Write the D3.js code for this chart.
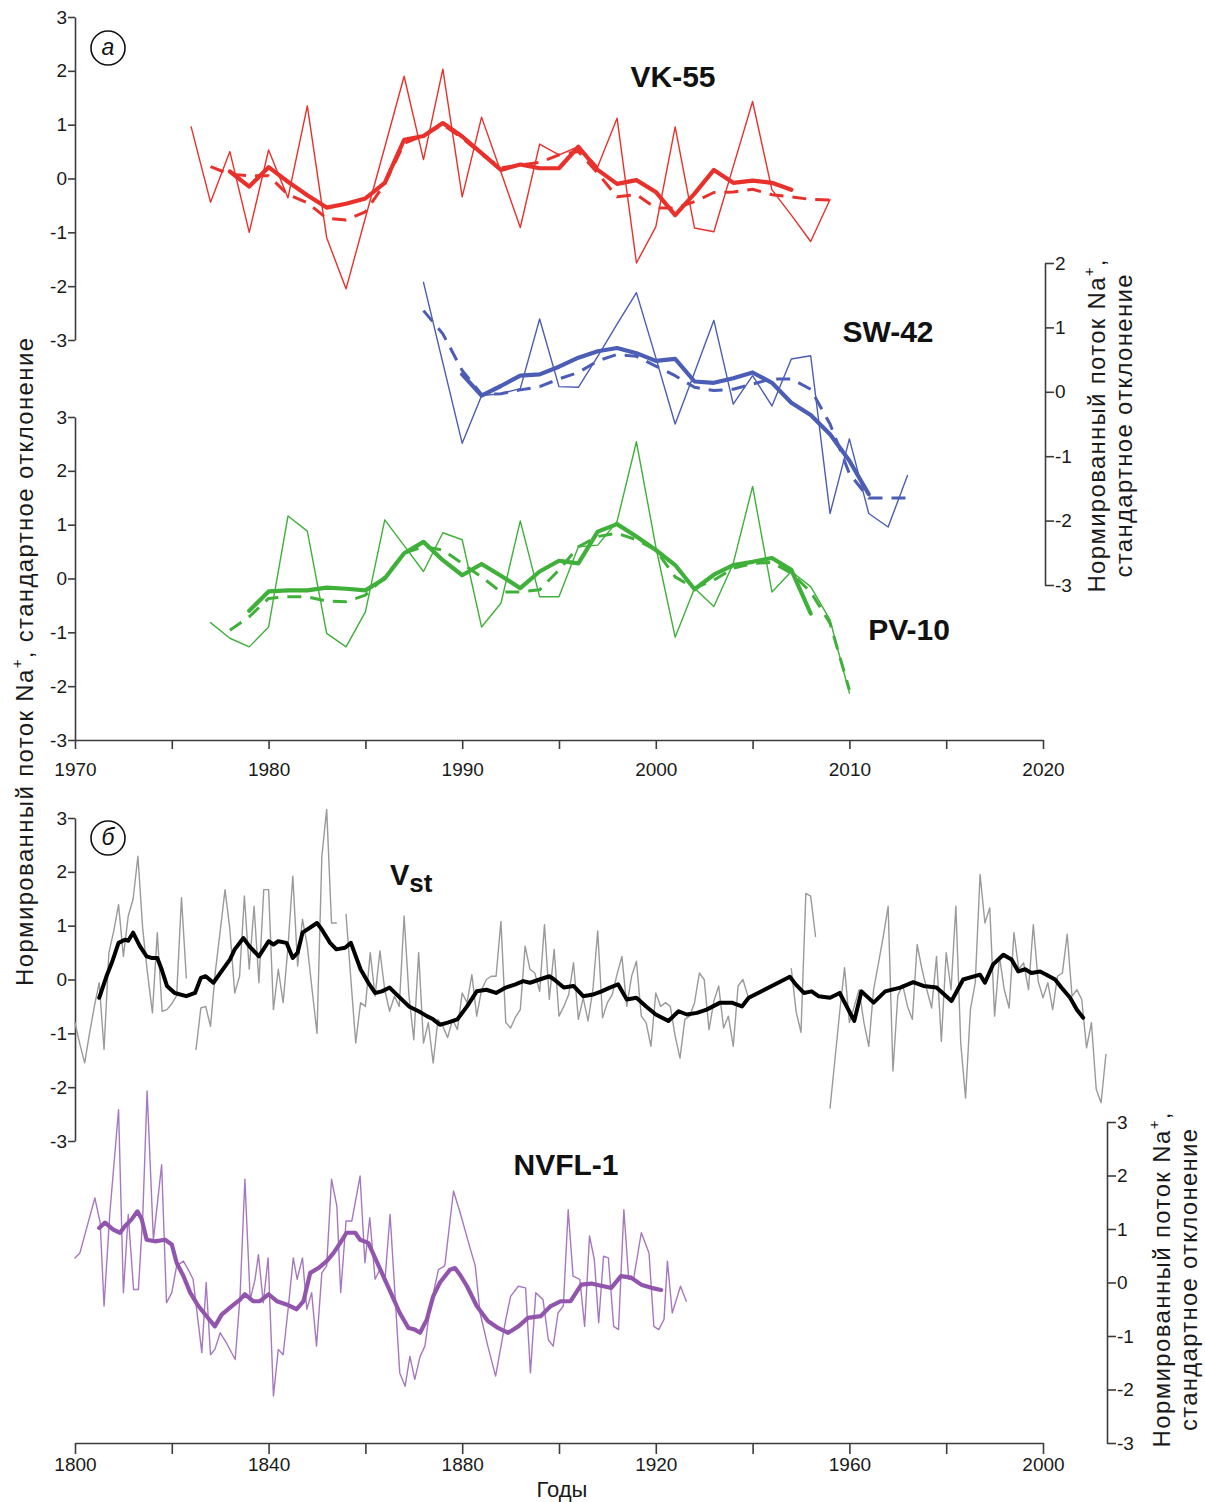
<!DOCTYPE html>
<html>
<head>
<meta charset="utf-8">
<script src="https://cdn.jsdelivr.net/npm/d3@7"></script>
<style>
body { margin: 0; background: #fff; }
text { font-family: "Liberation Sans", Arial, sans-serif; }
.axis path, .axis line { stroke: #3c3c3c; stroke-width: 1.6; }
.axis text { font-size: 19px; fill: #1a1a1a; }
</style>
</head>
<body>
<svg id="chart" width="1205" height="1502"></svg>
<script>
// ---------- panel a (annual, 1970-2020) ----------
var vkYears = d3.range(1976, 2010);
var vkAnnual = [0.96, -0.44, 0.5, -1.0, 0.53, -0.36, 1.35, -1.1, -2.05, -0.73, 0.58, 1.9, 0.35, 2.03, -0.34, 1.14, 0.12,
  -0.91, 0.64, 0.44, 0.59, 0.22, 1.12, -1.57, -0.9, 0.96, -0.92, -0.99, 0.22, 1.43, -0.21, -0.68, -1.17, -0.39];
var vkSmoothYears = d3.range(1978, 2008);
var vkSmooth = [0.13, -0.15, 0.21, -0.06, -0.31, -0.54, -0.47, -0.37, -0.08, 0.72, 0.79, 1.03, 0.78, 0.47, 0.16, 0.26,
  0.19, 0.19, 0.59, 0.16, -0.1, -0.03, -0.25, -0.68, -0.28, 0.16, -0.08, -0.04, -0.08, -0.21];
var vkDashYears = d3.range(1977, 2010);
var vkDash = [0.22, 0.08, 0.05, 0.05, -0.3, -0.45, -0.74, -0.77, -0.62, -0.1, 0.65, 0.8, 1.0, 0.75, 0.45, 0.2, 0.25, 0.3,
  0.44, 0.5, 0.1, -0.34, -0.3, -0.55, -0.55, -0.43, -0.26, -0.25, -0.2, -0.3, -0.34, -0.39, -0.4];

var swYears = d3.range(1988, 2014);
var swAnnual = [1.7, 0.45, -0.8, -0.06, -0.03, 0.05, 1.13, 0.08, 0.07, 0.55, 1.05, 1.54, 0.53, -0.5, 0.3, 1.11, -0.19,
  0.25, -0.22, 0.51, 0.56, -1.89, -0.73, -1.89, -2.1, -1.3];
var swSmoothYears = d3.range(1990, 2012);
var swSmooth = [0.27, -0.06, 0.09, 0.25, 0.27, 0.39, 0.53, 0.63, 0.68, 0.6, 0.48, 0.51, 0.16, 0.14, 0.21, 0.3, 0.14,
  -0.17, -0.36, -0.66, -1.07, -1.59];
var swDashYears = d3.range(1988, 2014);
var swDash = [1.26, 0.9, 0.33, -0.04, -0.03, 0.03, 0.08, 0.2, 0.3, 0.48, 0.58, 0.55, 0.4, 0.25, 0.07, 0.02, 0.04, 0.12,
  0.2, 0.2, 0.04, -0.5, -1.27, -1.65, -1.65, -1.65];

var pvYears = d3.range(1977, 2011);
var pvAnnual = [-0.82, -1.11, -1.27, -0.9, 1.16, 0.88, -1.02, -1.27, -0.62, 1.09, 0.61, 0.13, 0.85, 0.72, -0.9, -0.46,
  1.07, -0.34, -0.34, 0.59, 0.62, 1.06, 2.54, 0.59, -1.09, -0.18, -0.52, 0.28, 1.71, -0.25, 0.13, -0.15, -0.77, -2.13];
var pvSmoothYears = d3.range(1979, 2009);
var pvSmooth = [-0.6, -0.24, -0.22, -0.22, -0.17, -0.19, -0.22, 0.0, 0.47, 0.68, 0.34, 0.06, 0.27, 0.05, -0.18, 0.13,
  0.33, 0.28, 0.87, 1.01, 0.78, 0.53, 0.25, -0.2, 0.07, 0.25, 0.31, 0.38, 0.16, -0.65];
var pvDashYears = d3.range(1978, 2011);
var pvDash = [-0.96, -0.71, -0.37, -0.34, -0.34, -0.42, -0.43, -0.31, 0.03, 0.47, 0.59, 0.53, 0.28, 0.03, -0.25, -0.25,
  -0.21, 0.16, 0.59, 0.78, 0.84, 0.72, 0.53, 0.03, -0.18, -0.03, 0.19, 0.28, 0.3, 0.1, -0.25, -0.83, -2.07];

// ---------- panel b (1800-2000) ----------
var vstYears = d3.range(1800, 2014);
var vstAnnual = [
  -0.8, -1.2, -1.55, -1.0, -0.5, -0.06, -1.3, 0.5, 0.9, 1.39,
  0.43, 1.18, 1.49, 2.29, 0.93, 0.1, -0.62, 0.87, -0.59, -0.56,
  -0.45, -0.3, 1.52, 0.03, null, -1.3, -0.53, -0.5, -0.87, 0.15,
  0.9, 1.67, 0.93, -0.25, 0.06, 1.55, 0.19, 1.36, -0.06, 1.67,
  1.67, -0.56, 0.19, -0.43, 0.6, 1.92, 0.25, 1.12, 0.62, -0.2,
  -1.0, 2.29, 3.16, 1.05, 1.05, null, 1.21, 0.0, -1.18, -0.43,
  -0.5, 0.5, -0.31, 0.53, -0.19, -0.59, -0.31, -0.5, 1.18, -0.3,
  -1.12, 0.5, -1.18, -0.8, -1.55, -0.74, -0.87, -1.08, -0.74, -0.93,
  -0.25, -0.43, 0.09, -0.68, -0.19, 0.0, 0.06, 0.06, 1.08, -0.8,
  -0.9, -0.7, -0.56, 0.62, 0.19, 0.12, -0.22, 1.02, -0.37, 0.56,
  -0.68, -0.5, -0.28, 0.31, -0.74, -0.34, -0.77, -0.19, 0.9, -0.71,
  -0.43, -0.28, 0.1, 0.43, -0.5, 0.06, 0.34, -0.68, -0.8, -1.24,
  -0.25, -0.5, -0.43, -0.5, -1.05, -1.46, -0.74, -0.68, -0.43, 0.12,
  0.0, -0.93, -0.4, -0.12, -0.9, -0.68, -1.24, -0.12, 0.0, -0.3,
  null, null, null, null, null, null, null, null, 0.2, -0.6,
  -0.98, 1.6, 1.55, 0.8, null, null, -2.39, -1.5, -0.6, 0.22,
  -0.8, -0.5, -0.19, -0.8, -1.24, -0.19, 0.3, 0.8, 1.36, -1.7,
  -0.3, -0.1, -0.5, -0.74, 0.65, 0.19, -0.19, -0.53, 0.43, -1.15,
  0.5, -0.19, 1.36, -1.18, -2.2, -0.56, -0.06, 1.95, 1.05, 1.33,
  -0.68, 0.43, -0.19, -0.53, 0.87, 0.19, 0.31, -0.19, 1.02, -0.03,
  -0.34, -0.06, -0.56, 0.06, 0.12, 0.84, -0.31, -0.19, -0.37, -1.27,
  -0.8, -2.04, -2.29, -1.39];
var vstSmoothYears = [1805, 1806.5, 1807.6, 1809, 1810.3, 1811, 1812, 1813.4, 1814.8, 1815.8, 1817, 1817.9, 1819, 1820.6,
  1823, 1824.8, 1826, 1827, 1828.6, 1830, 1832, 1833, 1834.8, 1836, 1838, 1840, 1841, 1842, 1843.7, 1845, 1846, 1847,
  1850, 1851, 1852.7, 1854, 1855.8, 1857, 1859, 1860.6, 1862, 1863.4, 1865, 1866.8, 1869, 1871, 1872.7, 1874, 1875.4,
  1877, 1879, 1881, 1883, 1885, 1887, 1889, 1891, 1892.6, 1894, 1896, 1898, 1899, 1901, 1903, 1905, 1907, 1908.8,
  1910.5, 1912.2, 1914, 1916, 1918, 1920, 1922.6, 1924.7, 1926.4, 1928.5, 1930.5, 1933.3, 1935.7, 1937.8, 1939.2,
  1947.7, 1949, 1950.6, 1952.2, 1953.6, 1956, 1958, 1961, 1962.5, 1965, 1967.4, 1970.5, 1973.2, 1975.3, 1978, 1981.1,
  1983.5, 1987, 1988, 1989.7, 1991.8, 1993.5, 1994.9, 1996.3, 1997.6, 1999.4, 2000.7, 2002.5, 2003.8, 2005.6, 2007,
  2008.3];
var vstSmooth = [-0.34, 0.06, 0.31, 0.68, 0.74, 0.72, 0.87, 0.62, 0.43, 0.4, 0.4, 0.19, -0.12, -0.25,
  -0.31, -0.25, 0.03, 0.06, -0.06, 0.12, 0.37, 0.56, 0.77, 0.62, 0.43, 0.71, 0.65, 0.71, 0.68, 0.4, 0.5, 0.87,
  1.05, 0.93, 0.68, 0.56, 0.59, 0.68, 0.19, -0.06, -0.25, -0.22, -0.15, -0.31, -0.5, -0.59, -0.68, -0.74, -0.84,
  -0.8, -0.74, -0.5, -0.22, -0.19, -0.25, -0.15, -0.09, -0.03, -0.06, 0.0, 0.06, 0.0, -0.15, -0.12, -0.31, -0.28, -0.22,
  -0.15, -0.09, -0.37, -0.34, -0.5, -0.65, -0.77, -0.59, -0.65, -0.62, -0.56, -0.43, -0.43, -0.5, -0.34,
  0.05, -0.1, -0.25, -0.22, -0.31, -0.34, -0.25, -0.77, -0.22, -0.43, -0.22, -0.15, -0.05, -0.12, -0.15, -0.4,
  0.0, 0.09, -0.06, 0.28, 0.46, 0.37, 0.15, 0.19, 0.12, 0.15, 0.09, 0.0, -0.15, -0.34, -0.56,
  -0.71];

var nvYears = [1800, 1801, 1804.1, 1805.2, 1806, 1807.2, 1809, 1810, 1811, 1812.1, 1813.1, 1814, 1814.9, 1816.2, 1817.9,
  1818.9, 1820, 1821, 1822.4, 1823.4, 1824.4, 1826.2, 1827.1, 1828, 1828.9, 1830, 1831.3, 1833.1, 1834.1, 1835.1, 1836.2,
  1837.2, 1837.9, 1838.9, 1839.9, 1841, 1842, 1843, 1844.1, 1845.1, 1845.9, 1847, 1847.9, 1848.9, 1849.9, 1851, 1852,
  1853, 1854.1, 1854.9, 1856, 1857.2, 1858.9, 1859.9, 1860.9, 1862, 1863, 1864, 1865.1, 1867.1, 1868.2, 1869.2, 1870.2,
  1871.3, 1872.3, 1873.3, 1875.1, 1876.4, 1878.2, 1879.6, 1881.7, 1882.7, 1883.7, 1885.3, 1886.9, 1887.9, 1889, 1890,
  1891.6, 1893.1, 1894.1, 1895.2, 1896.7, 1897.8, 1898.8, 1899.8, 1900.9, 1901.9, 1902.9, 1904.3, 1905.3, 1906.3,
  1907.3, 1908.2, 1909.2, 1910.2, 1911.3, 1912.3, 1913.4, 1914.4, 1915.4, 1917, 1918.6, 1919.6, 1920.6, 1921.7, 1922.4,
  1923.4, 1925.1, 1926.3];
var nvAnnual = [0.46, 0.55, 1.58, 1.12, -0.44, 1.3, 3.23, -0.19, 1.27, -0.13, -0.13, 1.24, 3.58, 0.8, 2.2,
  -0.38, -0.19, 0.31, 0.4, 0.24, 0.06, -1.31, 0.0, -1.35, -1.25, -0.94, -1.13, -1.44, -0.26, 1.93, -0.32,
  0.06, 0.52, -0.38, 0.46, -2.12, -1.25, -1.35, -0.44, 0.46, 0.06, 0.46, -0.5, -0.19, -1.19, 0.18, 0.31,
  1.93, 1.43, -0.19, 1.15, 1.15, 1.99, 0.37, 1.21, 0.06, 0.24, 0.0, 1.27, -1.69, -1.94, -1.38, -1.81,
  -1.38, -1.19, -0.5, 0.24, 0.31, 1.71, 1.3, 0.62, 0.31, -0.57, -1.19, -1.75, -1.25, -0.69, -0.26,
  -0.07, -0.1, -1.69, -0.19, -0.32, -1.07, -1.19, -0.57, -0.44, 1.36, 0.12, 0.06, -0.82, 0.87,
  0.43, -0.75, 0.49, 0.46, -0.82, -0.88, 1.36, 0.06, 0.06, 0.93, 0.55, -0.82, -0.88, -0.69, 0.4,
  -0.57, -0.07, -0.35];
var nvSmoothYears = [1805, 1806.2, 1807.9, 1809.3, 1810.3, 1811.7, 1812.9, 1813.8, 1814.8, 1816.5, 1818.6, 1820, 1821,
  1822.4, 1823.8, 1825.5, 1827.2, 1828.9, 1830.3, 1832.4, 1834.1, 1835.1, 1836.8, 1838.2, 1840, 1841.7, 1843.7, 1845.8,
  1847.2, 1848.6, 1850.3, 1852, 1853.4, 1854.8, 1856.1, 1857.9, 1858.9, 1860.6, 1862.3, 1863.7, 1865.4, 1867.1, 1868.9,
  1870.2, 1871.3, 1872.7, 1874, 1875.4, 1877.5, 1878.5, 1879.5, 1881, 1883, 1885.3, 1887.4, 1889.5, 1891.6, 1893.6,
  1896.2, 1898.3, 1900.4, 1902.4, 1904.6, 1906.7, 1908.7, 1910.8, 1912.8, 1914.9, 1917, 1919.1, 1921.1];
var nvSmooth = [1.02, 1.12, 0.99, 0.93, 1.05, 1.18, 1.33, 1.18, 0.8, 0.77, 0.8, 0.71, 0.37,
  0.12, -0.19, -0.44, -0.63, -0.82, -0.6, -0.44, -0.32, -0.22, -0.35, -0.35, -0.22, -0.35, -0.41, -0.5,
  -0.35, 0.18, 0.27, 0.4, 0.55, 0.74, 0.93, 0.93, 0.8, 0.74, 0.4, 0.12, -0.22, -0.57, -0.85,
  -0.88, -0.94, -0.69, -0.26, 0.0, 0.24, 0.27, 0.15, -0.07, -0.44, -0.72, -0.85, -0.94, -0.82, -0.66,
  -0.63, -0.44, -0.35, -0.35, -0.04, -0.02, -0.06, -0.1, 0.12, 0.09, -0.04, -0.1, -0.14];

var yTicks6 = [-3, -2, -1, 0, 1, 2, 3];
var yTicksSW = [-3, -2, -1, 0, 1, 2];

var svg = d3.select("#chart");
svg.append("rect").attr("width", 1205).attr("height", 1502).attr("fill", "#fff");

var xA = d3.scaleLinear().domain([1970, 2020]).range([75, 1043]);
var yVK = d3.scaleLinear().domain([-3, 3]).range([340, 17]);
var yPV = d3.scaleLinear().domain([-3, 3]).range([740, 417]);
var ySW = d3.scaleLinear().domain([-3, 2]).range([585, 263]);
var xB = d3.scaleLinear().domain([1800, 2000]).range([75, 1043]);
var yV = d3.scaleLinear().domain([-3, 3]).range([1141, 818]);
var yN = d3.scaleLinear().domain([-3, 3]).range([1443, 1122]);

var fmt = function (d) { return String(d); };

function leftAxis(scale, x) {
  svg.append("g").attr("class", "axis").attr("transform", "translate(" + x + ",0)")
    .call(d3.axisLeft(scale).tickValues(yTicks6).tickSize(7).tickSizeOuter(0).tickPadding(1).tickFormat(fmt));
}
function rightAxis(scale, x, ticks) {
  svg.append("g").attr("class", "axis").attr("transform", "translate(" + x + ",0)")
    .call(d3.axisRight(scale).tickValues(ticks).tickSize(9).tickSizeOuter(0).tickPadding(1).tickFormat(fmt));
}

leftAxis(yVK, 75);
leftAxis(yPV, 75);
rightAxis(ySW, 1045, yTicksSW);
leftAxis(yV, 75);
rightAxis(yN, 1107, yTicks6);

svg.append("g").attr("class", "axis").attr("transform", "translate(0,740)")
  .call(d3.axisBottom(xA).tickValues(d3.range(1970, 2021, 5)).tickSize(9).tickSizeOuter(0).tickPadding(14)
    .tickFormat(function (d) { return d % 10 === 0 ? d : ""; }));
svg.append("g").attr("class", "axis").attr("transform", "translate(0,1443)")
  .call(d3.axisBottom(xB).tickValues(d3.range(1800, 2001, 20)).tickSize(11).tickSizeOuter(0).tickPadding(4)
    .tickFormat(function (d) { return d % 40 === 0 ? d : ""; }));

function series(years, vals, x, y, color, width, dash) {
  var pts = years.map(function (d, i) { return [d, vals[i]]; });
  var line = d3.line()
    .defined(function (d) { return d[1] !== null; })
    .x(function (d) { return x(d[0]); })
    .y(function (d) { return y(d[1]); });
  svg.append("path").datum(pts)
    .attr("d", line)
    .attr("fill", "none")
    .attr("stroke", color)
    .attr("stroke-width", width)
    .attr("stroke-linejoin", "round")
    .attr("stroke-linecap", dash ? "butt" : "round")
    .attr("stroke-dasharray", dash || null);
}

var red = "#e8312b", blue = "#4b5db4", green = "#3fb039", purple = "#9255ad";

series(vkYears, vkAnnual, xA, yVK, red, 1.4);
series(vkDashYears, vkDash, xA, yVK, red, 3, "14,9");
series(vkSmoothYears, vkSmooth, xA, yVK, red, 4.2);

series(swYears, swAnnual, xA, ySW, blue, 1.4);
series(swDashYears, swDash, xA, ySW, blue, 3, "14,9");
series(swSmoothYears, swSmooth, xA, ySW, blue, 4.2);

series(pvYears, pvAnnual, xA, yPV, green, 1.4);
series(pvDashYears, pvDash, xA, yPV, green, 3, "14,9");
series(pvSmoothYears, pvSmooth, xA, yPV, green, 4.2);

series(vstYears, vstAnnual, xB, yV, "#9a9a9a", 1.4);
series(vstSmoothYears, vstSmooth, xB, yV, "#000", 4);

series(nvYears, nvAnnual, xB, yN, "#a778bf", 1.4);
series(nvSmoothYears, nvSmooth, xB, yN, purple, 4.2);

// series names
function label(x, y, txt) {
  svg.append("text").attr("x", x).attr("y", y).attr("text-anchor", "middle")
    .attr("font-size", 30).attr("font-weight", "bold").attr("fill", "#111").text(txt);
}
label(673, 87, "VK-55");
label(888, 342, "SW-42");
label(909, 640, "PV-10");
label(566, 1175, "NVFL-1");
var vst = svg.append("text").attr("x", 390).attr("y", 885).attr("font-size", 29).attr("font-weight", "bold").attr("fill", "#111");
vst.append("tspan").text("V");
vst.append("tspan").attr("dy", 7).attr("font-size", 26).text("st");

// panel letters
[["а", 48], ["б", 838]].forEach(function (p) {
  svg.append("circle").attr("cx", 108).attr("cy", p[1]).attr("r", 17)
    .attr("fill", "none").attr("stroke", "#111").attr("stroke-width", 1.6);
  svg.append("text").attr("x", 108).attr("y", p[1] + 7).attr("text-anchor", "middle")
    .attr("font-size", 23).attr("font-style", "italic").attr("fill", "#111").text(p[0]);
});

// axis titles
function naTitle(x, y, len1, line2, len2) {
  var t = svg.append("text").attr("transform", "translate(" + x + "," + y + ") rotate(-90)")
    .attr("text-anchor", "middle").attr("font-size", 24).attr("fill", "#1a1a1a");
  var l1 = t.append("tspan").attr("x", 0).attr("y", 0).attr("textLength", len1).attr("lengthAdjust", "spacing");
  l1.append("tspan").text("Нормированный поток Na");
  l1.append("tspan").attr("font-size", 15).attr("dy", -11).text("+");
  l1.append("tspan").attr("dy", 11).text(line2 ? "," : ", стандартное отклонение");
  if (line2) {
    t.append("tspan").attr("x", 0).attr("y", 27).attr("textLength", len2).attr("lengthAdjust", "spacing")
      .text("стандартное отклонение");
  }
}
naTitle(33, 662, 648, false);
naTitle(1105, 426, 333, true, 303);
naTitle(1170, 1280, 335, true, 302);

svg.append("text").attr("x", 562).attr("y", 1497).attr("text-anchor", "middle")
  .attr("font-size", 22).attr("fill", "#1a1a1a").text("Годы");
</script>
</body>
</html>
